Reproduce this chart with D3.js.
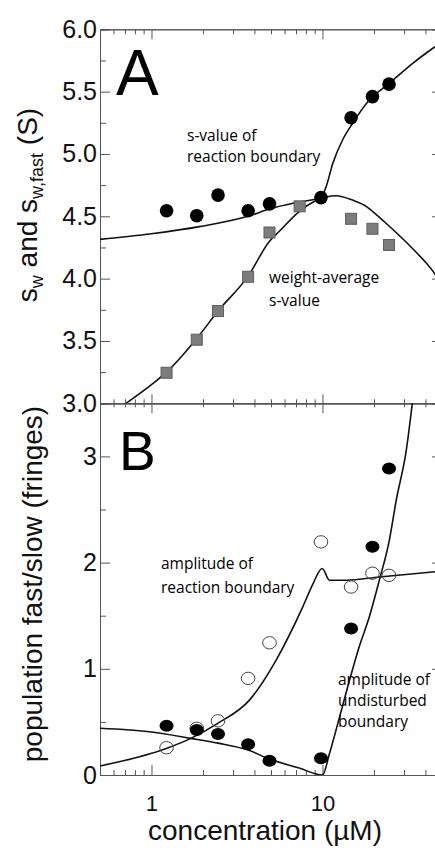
<!DOCTYPE html>
<html><head><meta charset="utf-8">
<script src="https://cdn.jsdelivr.net/npm/d3@7"></script>
<style>
  body { margin: 0; background: #fff; }
  svg { display: block; }
  .tick text { font-family: "Liberation Sans", Arial, sans-serif; fill: #111; }
</style>
</head><body>
<svg id="chart" width="435" height="853"></svg>
<script>
// ---- Panel A: sedimentation coefficients (S) ----
const concA_reaction = [1.225, 1.84, 2.45, 3.675, 4.9, 9.8, 14.7, 19.6, 24.5];
const sReaction      = [4.545, 4.505, 4.67, 4.545, 4.60, 4.65, 5.29, 5.46, 5.56];

const concA_weight   = [1.225, 1.84, 2.45, 3.675, 4.9, 7.35, 14.7, 19.6, 24.5];
const sWeight        = [3.245, 3.51, 3.74, 4.015, 4.37, 4.58, 4.48, 4.40, 4.27];

// model curves, panel A
const fitReactionS_conc = [0.5, 1.0, 1.91, 3.66, 4.94, 7.33, 9.8, 10.5, 11.5, 13.1, 15.0, 18.8, 24.6, 33.7, 44.2, 50];
const fitReactionS_val  = [4.315, 4.36, 4.417, 4.50, 4.56, 4.615, 4.65, 4.737, 4.925, 5.112, 5.246, 5.433, 5.567, 5.727, 5.848, 5.90];

const fitWeight_conc = [0.71, 1.0, 1.225, 1.84, 2.45, 3.675, 4.9, 5.6, 7.33, 9.0, 10.5, 12.0, 15.0, 18.0, 19.6, 24.6, 33.7, 44.2, 50];
const fitWeight_val  = [3.0, 3.15, 3.25, 3.52, 3.74, 4.02, 4.30, 4.38, 4.54, 4.62, 4.655, 4.665, 4.63, 4.58, 4.54, 4.42, 4.24, 4.06, 3.95];

// ---- Panel B: boundary amplitudes (fringes) ----
const concB_open   = [1.225, 1.84, 2.45, 3.675, 4.9, 9.8, 14.7, 19.6, 24.5];
const ampReaction  = [0.257, 0.44, 0.51, 0.91, 1.245, 2.195, 1.77, 1.90, 1.88];

const concB_filled = [1.225, 1.84, 2.45, 3.675, 4.9, 9.8, 14.7, 19.6, 24.5];
const ampUndist    = [0.464, 0.423, 0.386, 0.29, 0.135, 0.157, 1.38, 2.15, 2.885];

const fitAmpReaction_conc = [0.5, 1.22, 1.7, 2.44, 3.74, 5.35, 7.67, 8.8, 9.95, 11.0, 13.8, 21.5, 50];
const fitAmpReaction_val  = [0.085, 0.25, 0.345, 0.486, 0.705, 1.08, 1.583, 1.80, 1.945, 1.834, 1.834, 1.865, 1.92];

const fitAmpUndist_conc = [0.5, 1.0, 1.7, 2.45, 3.675, 4.9, 7.3, 10.0, 11.0, 12.6, 14.4, 16.4, 18.8, 21.5, 24.6, 27.0, 30.9, 33.7];
const fitAmpUndist_val  = [0.44, 0.405, 0.345, 0.30, 0.235, 0.15, 0.065, 0.0, 0.204, 0.549, 0.894, 1.208, 1.49, 1.834, 2.21, 2.587, 3.057, 3.53];

// ---- axis ticks ----
const xMajor = [1, 10];
const xMinor = [0.6, 0.7, 0.8, 0.9, 2, 3, 4, 5, 6, 7, 8, 9, 20, 30, 40];
const yA_major = [3.0, 3.5, 4.0, 4.5, 5.0, 5.5, 6.0];
const yA_minor = [3.25, 3.75, 4.25, 4.75, 5.25, 5.75];
const yB_major = [0, 1, 2, 3];
const yB_minor = [0.5, 1.5, 2.5];

const zip = (xs, ys) => xs.map((v, i) => [v, ys[i]]);

const svg = d3.select("#chart");
svg.append("rect").attr("width", 435).attr("height", 853).attr("fill", "#fff");

const left = 100, right = 442, topA = 29.3, mid = 403.3, bottom = 775;

const x  = d3.scaleLog().domain([0.5, 50]).range([left, right]);
const yA = d3.scaleLinear().domain([3, 6]).range([mid, topA]);
const yB = d3.scaleLinear().domain([0, 3.5]).range([bottom, mid]);

// clip regions
const defs = svg.append("defs");
defs.append("clipPath").attr("id", "clipA").append("rect")
  .attr("x", left).attr("y", topA).attr("width", right - left).attr("height", mid - topA);
defs.append("clipPath").attr("id", "clipB").append("rect")
  .attr("x", left).attr("y", mid).attr("width", right - left).attr("height", bottom - mid);

// ---- axes ----
function styleAxis(g) {
  g.selectAll(".domain").attr("stroke", "#555").attr("stroke-width", 1);
  g.selectAll(".tick line").attr("stroke", "#555").attr("stroke-width", 1);
}
function addAxis(gen, tx, ty) {
  const g = svg.append("g").attr("transform", `translate(${tx},${ty})`).call(gen);
  styleAxis(g);
  return g;
}
const none = () => "";

// left axis, panel A
addAxis(d3.axisLeft(yA).tickValues(yA_major).tickSize(-10).tickPadding(3).tickFormat(d3.format(".1f")), left, 0)
  .selectAll(".tick text").attr("font-size", 25);
addAxis(d3.axisLeft(yA).tickValues(yA_minor).tickSize(-6).tickFormat(none), left, 0);
// left axis, panel B
addAxis(d3.axisLeft(yB).tickValues(yB_major).tickSize(-10).tickPadding(3).tickFormat(d3.format("d")), left, 0)
  .selectAll(".tick text").attr("font-size", 25);
addAxis(d3.axisLeft(yB).tickValues(yB_minor).tickSize(-6).tickFormat(none), left, 0);
// right axes
addAxis(d3.axisRight(yA).tickValues(yA_major).tickSize(-10).tickFormat(none), right, 0);
addAxis(d3.axisRight(yA).tickValues(yA_minor).tickSize(-6).tickFormat(none), right, 0);
addAxis(d3.axisRight(yB).tickValues(yB_major).tickSize(-10).tickFormat(none), right, 0);
addAxis(d3.axisRight(yB).tickValues(yB_minor).tickSize(-6).tickFormat(none), right, 0);

// top of panel A
addAxis(d3.axisTop(x).tickValues(xMajor).tickSize(-10).tickFormat(none), 0, topA);
addAxis(d3.axisTop(x).tickValues(xMinor).tickSize(-5).tickFormat(none), 0, topA);
// shared middle line: panel A bottom (ticks up), panel B top (ticks down)
addAxis(d3.axisBottom(x).tickValues(xMajor).tickSize(-9).tickFormat(none), 0, mid);
addAxis(d3.axisBottom(x).tickValues(xMinor).tickSize(-4).tickFormat(none), 0, mid);
addAxis(d3.axisTop(x).tickValues(xMajor).tickSize(-10).tickFormat(none), 0, mid);
addAxis(d3.axisTop(x).tickValues(xMinor).tickSize(-4).tickFormat(none), 0, mid);
// bottom of panel B
addAxis(d3.axisBottom(x).tickValues(xMajor).tickSize(-10).tickPadding(20).tickFormat(d3.format("d")), 0, bottom)
  .selectAll(".tick text").attr("font-size", 22);
addAxis(d3.axisBottom(x).tickValues(xMinor).tickSize(-5).tickFormat(none), 0, bottom);

// ---- curves ----
const lineA = d3.line().x(d => x(d[0])).y(d => yA(d[1])).curve(d3.curveMonotoneX);
const lineB = d3.line().x(d => x(d[0])).y(d => yB(d[1])).curve(d3.curveMonotoneX);

const gA = svg.append("g").attr("clip-path", "url(#clipA)");
const gB = svg.append("g").attr("clip-path", "url(#clipB)");

[zip(fitReactionS_conc, fitReactionS_val), zip(fitWeight_conc, fitWeight_val)].forEach(pts => {
  gA.append("path").attr("d", lineA(pts)).attr("fill", "none")
    .attr("stroke", "#111").attr("stroke-width", 1.6);
});
[zip(fitAmpReaction_conc, fitAmpReaction_val), zip(fitAmpUndist_conc, fitAmpUndist_val)].forEach(pts => {
  gB.append("path").attr("d", lineB(pts)).attr("fill", "none")
    .attr("stroke", "#111").attr("stroke-width", 1.6);
});

// ---- markers, panel A ----
const sq = 11;
gA.selectAll("rect.wavg").data(zip(concA_weight, sWeight)).join("rect")
  .attr("class", "wavg")
  .attr("x", d => x(d[0]) - sq / 2).attr("y", d => yA(d[1]) - sq / 2)
  .attr("width", sq).attr("height", sq)
  .attr("fill", "#7c7c7c").attr("stroke", "#5e5e5e").attr("stroke-width", 1);
gA.selectAll("circle.react").data(zip(concA_reaction, sReaction)).join("circle")
  .attr("class", "react")
  .attr("cx", d => x(d[0])).attr("cy", d => yA(d[1])).attr("r", 6.8)
  .attr("fill", "#000");

// ---- markers, panel B ----
gB.selectAll("ellipse.open").data(zip(concB_open, ampReaction)).join("ellipse")
  .attr("class", "open")
  .attr("cx", d => x(d[0])).attr("cy", d => yB(d[1])).attr("rx", 6.8).attr("ry", 6.2)
  .attr("fill", "none").attr("stroke", "#444").attr("stroke-width", 1);
gB.selectAll("ellipse.filled").data(zip(concB_filled, ampUndist)).join("ellipse")
  .attr("class", "filled")
  .attr("cx", d => x(d[0])).attr("cy", d => yB(d[1])).attr("rx", 7).attr("ry", 6)
  .attr("fill", "#000");

// ---- panel letters ----
const helv = "'Liberation Sans', Arial, sans-serif";
svg.append("text").attr("x", 116).attr("y", 95).attr("font-family", helv)
  .attr("font-size", 64).text("A");
svg.append("text").attr("x", 119).attr("y", 470).attr("font-family", helv)
  .attr("font-size", 55).text("B");

// ---- annotations ----
const ann = "'Open Sans', 'Noto Sans', sans-serif";
function note(lines, tx, ty, lh) {
  const t = svg.append("text").attr("font-family", ann).attr("font-size", 15.5).attr("fill", "#000");
  lines.forEach((s, i) => t.append("tspan").attr("x", tx).attr("y", ty + i * lh).text(s));
}
note(["s-value of", "reaction boundary"], 187, 141, 21);
note(["weight-average", "s-value"], 269, 283, 23);
note(["amplitude of", "reaction boundary"], 161, 569, 24);
note(["amplitude of", "undisturbed", "boundary"], 338, 685, 21);

// ---- axis titles ----
const yTitleA = svg.append("text")
  .attr("transform", "translate(37,205) rotate(-90)")
  .attr("text-anchor", "middle").attr("font-family", helv).attr("font-size", 28).attr("fill", "#111");
yTitleA.append("tspan").text("s");
yTitleA.append("tspan").attr("font-size", 18).attr("dy", 6).text("w");
yTitleA.append("tspan").attr("dy", -6).text(" and s");
yTitleA.append("tspan").attr("font-size", 18).attr("dy", 6).text("w,fast");
yTitleA.append("tspan").attr("dy", -6).text(" (S)");

svg.append("text")
  .attr("transform", "translate(42,584) rotate(-90)")
  .attr("text-anchor", "middle").attr("font-family", helv).attr("font-size", 28).attr("fill", "#111")
  .text("population fast/slow (fringes)");

svg.append("text")
  .attr("x", 265).attr("y", 840)
  .attr("text-anchor", "middle").attr("font-family", helv).attr("font-size", 28).attr("fill", "#111")
  .text("concentration (\u00b5M)");
</script>
</body></html>
